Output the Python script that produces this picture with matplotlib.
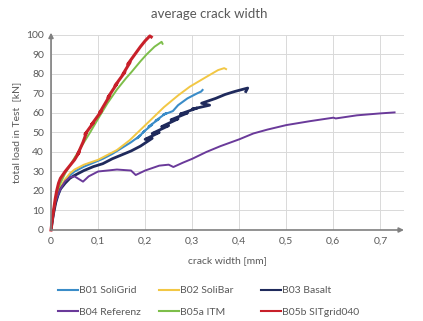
import matplotlib
matplotlib.use("Agg")
import matplotlib.pyplot as plt

plt.rcParams['font.family'] = ['Lato', 'DejaVu Sans']

# data (crack width in mm, load in kN)
b01_x = [0, 0.004, 0.008, 0.012, 0.02, 0.03, 0.04, 0.05, 0.07, 0.09, 0.11, 0.13, 0.15, 0.17,
         0.19, 0.183, 0.2, 0.195, 0.215, 0.207, 0.23, 0.222, 0.245, 0.238, 0.259, 0.27, 0.29, 0.31, 0.319, 0.322]
b01_y = [0, 6, 12, 16, 21, 25, 28, 30, 32.5, 34.5, 36.5, 39, 42, 45,
         48.5, 47, 51, 50, 54, 53, 57, 56, 60, 59, 61, 64, 67.5, 70, 71, 71.8]

b02_x = [0, 0.004, 0.008, 0.012, 0.02, 0.03, 0.04, 0.05, 0.07, 0.1, 0.12, 0.14, 0.167,
         0.21, 0.24, 0.27, 0.295, 0.33, 0.355, 0.368, 0.372]
b02_y = [0, 7, 13, 17, 22, 26, 29, 31, 33.5, 36, 38.5, 41, 46,
         56, 63, 69, 73.5, 78.5, 82, 83, 82.5]

b03_x = [0, 0.005, 0.01, 0.015, 0.02, 0.03, 0.04, 0.05, 0.07, 0.09, 0.11, 0.13, 0.15, 0.17,
         0.19, 0.215, 0.2, 0.23, 0.215, 0.25, 0.235, 0.27, 0.255, 0.29, 0.275, 0.31, 0.3, 0.337,
         0.32, 0.35, 0.37, 0.39, 0.41, 0.418, 0.414]
b03_y = [0, 8, 14, 18, 21, 24, 26.5, 28, 30.5, 32.5, 34, 36.5, 38.5, 40.5,
         43, 47, 46.5, 50, 49.5, 53.5, 53, 57, 56.5, 60, 59.5, 62.5, 62, 64,
         65, 67.5, 69.5, 71, 72.3, 72.8, 71]

b04_x = [0, 0.005, 0.01, 0.02, 0.03, 0.04, 0.05, 0.06, 0.068, 0.08, 0.1, 0.14, 0.17, 0.18,
         0.2, 0.23, 0.25, 0.26, 0.28, 0.3, 0.33, 0.36, 0.4, 0.43, 0.46, 0.5, 0.55, 0.6,
         0.605, 0.65, 0.7, 0.73]
b04_y = [0, 10, 15, 21, 25, 27, 27.5, 26, 24.8, 27.5, 30, 31, 30.5, 28.2,
         30.5, 33, 33.5, 32.3, 34.5, 36.5, 40, 43, 46.5, 49.5, 51.5, 53.8, 55.8, 57.6,
         57.2, 58.8, 59.8, 60.3]

b05a_x = [0, 0.004, 0.008, 0.012, 0.02, 0.03, 0.04, 0.05, 0.065, 0.083, 0.1, 0.12, 0.14,
          0.16, 0.171, 0.19, 0.203, 0.22, 0.235, 0.237]
b05a_y = [0, 8, 14, 19, 24, 29, 33, 37, 43, 50, 57, 65, 72,
          78, 81, 86.5, 90, 94, 96.5, 95.5]

b05b_x = [0, 0.003, 0.006, 0.009, 0.012, 0.016, 0.02, 0.03, 0.04, 0.05, 0.06, 0.057, 0.068,
          0.0755, 0.072, 0.09, 0.086, 0.107, 0.103, 0.125, 0.121, 0.14, 0.136, 0.157, 0.153,
          0.168, 0.163, 0.178, 0.19, 0.2, 0.21, 0.213]
b05b_y = [0, 6, 11, 16, 20, 24, 26.5, 30, 33, 36, 40, 39, 45,
          50, 49, 55, 54, 61, 60, 69, 68, 75, 74, 81, 80,
          86, 85, 90, 94, 97, 99.5, 99]

labels = ['B01 SoliGrid', 'B02 SoliBar', 'B03 Basalt',
          'B04 Referenz', 'B05a ITM', 'B05b SITgrid040']
xticks = [0, 0.1, 0.2, 0.3, 0.4, 0.5, 0.6, 0.7]
xticklabels = ['0', '0,1', '0,2', '0,3', '0,4', '0,5', '0,6', '0,7']
yticks = [0, 10, 20, 30, 40, 50, 60, 70, 80, 90, 100]

grey = '#595959'

fig = plt.figure(figsize=(4.23, 3.21), dpi=100)
ax = fig.add_axes([0.1206, 0.2835, 0.8344, 0.6075])

l1, = ax.plot(b01_x, b01_y, color='#3a8cc8', lw=1.5)
l2, = ax.plot(b02_x, b02_y, color='#f2c744', lw=1.4)
l3, = ax.plot(b03_x, b03_y, color='#1f2a5c', lw=2.0)
l4, = ax.plot(b04_x, b04_y, color='#6a3a9a', lw=1.4)
l5, = ax.plot(b05a_x, b05a_y, color='#7dbe4a', lw=1.4)
l6, = ax.plot(b05b_x, b05b_y, color='#c8202a', lw=2.2, clip_on=False)

ax.set_xlim(0, 0.75)
ax.set_ylim(0, 100)
ax.set_xticks(xticks)
ax.set_xticklabels(xticklabels)
ax.set_yticks(yticks)
ax.tick_params(length=0, labelsize=7.5, labelcolor=grey, pad=5)
ax.grid(True, color='#d9d9d9', lw=0.7)
ax.set_axisbelow(True)
for s in ax.spines.values():
    s.set_visible(False)

# axes drawn as arrows
ax.annotate('', xy=(1.0, 0), xytext=(0, 0), xycoords='axes fraction',
            arrowprops=dict(arrowstyle='-|>', color='#808080', lw=1.2,
                            mutation_scale=7, shrinkA=0, shrinkB=0))
ax.annotate('', xy=(0, 1.012), xytext=(0, 0), xycoords='axes fraction',
            arrowprops=dict(arrowstyle='-|>', color='#808080', lw=1.2,
                            mutation_scale=7, shrinkA=0, shrinkB=0))

fig.text(0.494, 0.957, 'average crack width', fontsize=9.5, color=grey,
         ha='center', va='center')
ax.set_xlabel('crack width [mm]', fontsize=7.5, color=grey, labelpad=7)
ax.set_ylabel('total load in Test  [kN]', fontsize=7.5, color=grey, labelpad=4)

# legend: one small legend per column so the columns sit where they do in the original
cols = [([l1, l4], [labels[0], labels[3]], 58),
        ([l2, l5], [labels[1], labels[4]], 159),
        ([l3, l6], [labels[2], labels[5]], 261)]
for hs, ls, px in cols:
    leg = fig.legend(hs, ls, loc='upper left', bbox_to_anchor=(px / 423, 1 - 286 / 321),
                     frameon=False, fontsize=7.5, labelcolor=grey, handlelength=1.9,
                     handletextpad=0.15, labelspacing=1.15, borderpad=0, borderaxespad=0)
    for line in leg.get_lines():
        line.set_linewidth(1.5)

fig.savefig('out.png', dpi=100)
